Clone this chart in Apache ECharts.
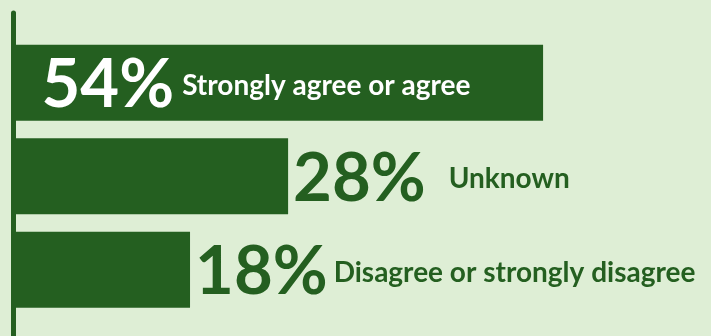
<!DOCTYPE html>
<html>
<head>
<meta charset="utf-8">
<script src="https://cdn.jsdelivr.net/npm/echarts@6/dist/echarts.min.js"></script>
<style>
  html, body { margin: 0; padding: 0; background: #deeed5; }
  #myChart { width: 711px; height: 336px; }
</style>
</head>
<body>
<div id="myChart"></div>
<script>
  // data
  var categories = ['Strongly agree or agree', 'Unknown', 'Disagree or strongly disagree'];
  var values = [54, 28, 18];
  var insideLabel = [true, false, false];
  var labelGap = [8, 23, 6];

  var green = '#245f20';
  var font = 'Lato';

  var seriesData = values.map(function (v, i) {
    var inside = insideLabel[i];
    var color = inside ? '#ffffff' : green;
    return {
      value: v,
      label: {
        show: true,
        position: inside ? 'insideLeft' : 'right',
        distance: inside ? 28 : 5,
        offset: [0, 3],
        formatter: '{n|' + v + '%}{t|' + categories[i] + '}',
        rich: {
          n: {
            fontFamily: font, fontWeight: 'bold', fontSize: 67, lineHeight: 70,
            color: color, verticalAlign: 'middle'
          },
          t: {
            fontFamily: font, fontWeight: 'bold', fontSize: 28, lineHeight: 30,
            color: color, verticalAlign: 'middle', padding: [0, 0, 0, labelGap[i]]
          }
        }
      }
    };
  });

  var myChart = echarts.init(document.getElementById('myChart'));
  var option = {
    backgroundColor: '#deeed5',
    animation: false,
    grid: [
      {left: 13.5, right: 11, top: 36, height: 280.5},
      // only for the long vertical axis line
      {left: 13.5, right: 11, top: 13, bottom: 0}
    ],
    xAxis: [
      {gridIndex: 0, type: 'value', min: 0, max: 70, show: false},
      {gridIndex: 1, type: 'value', min: 0, max: 70, show: false}
    ],
    yAxis: [
      {
        gridIndex: 0,
        type: 'category',
        inverse: true,
        data: categories,
        axisLine: {show: false},
        axisTick: {show: false},
        axisLabel: {show: false}
      },
      {
        gridIndex: 1,
        type: 'category',
        data: categories,
        axisLine: {show: true, lineStyle: {color: green, width: 5}},
        axisTick: {show: false},
        axisLabel: {show: false}
      }
    ],
    series: [
      {
        type: 'bar',
        xAxisIndex: 0,
        yAxisIndex: 0,
        barWidth: 76,
        itemStyle: {color: green},
        data: seriesData,
        z: 1
      }
    ]
  };
  myChart.setOption(option);
</script>
</body>
</html>
